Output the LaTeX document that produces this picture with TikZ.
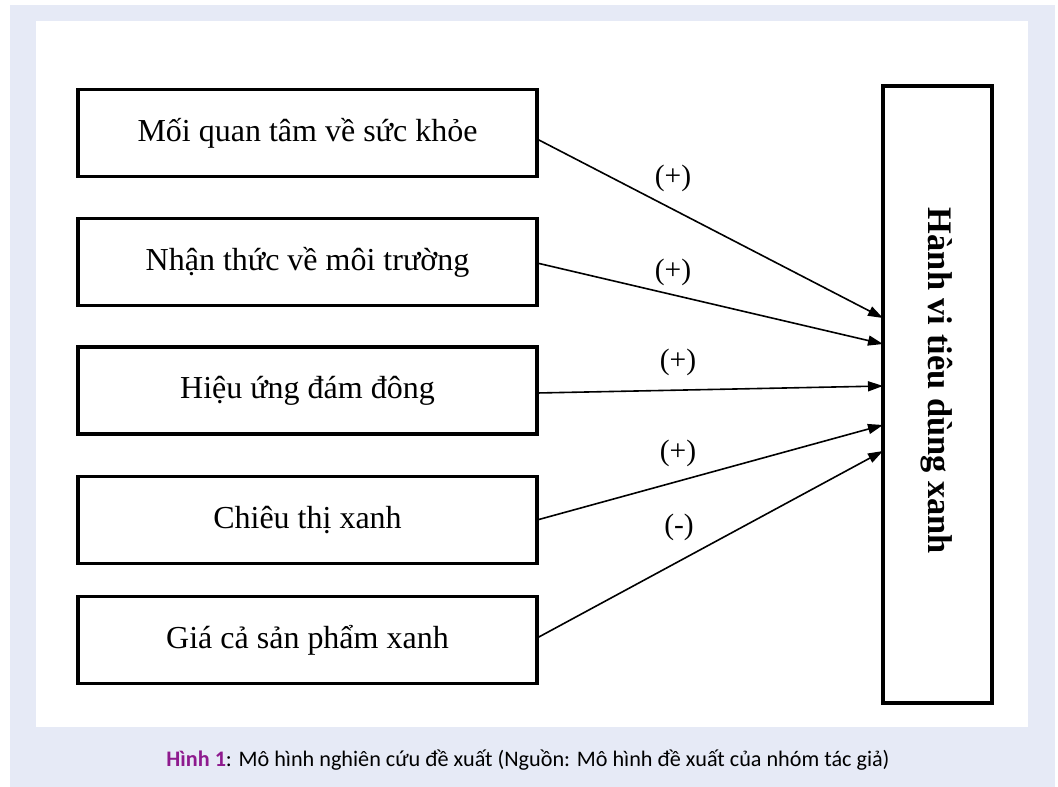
\documentclass[tikz,border=0pt]{standalone}
\usepackage{fontspec}
\setmainfont{Liberation Serif}
\newfontfamily\capfont{Carlito}
\usetikzlibrary{arrows.meta}
\definecolor{lav}{HTML}{E6EAF6}
\definecolor{capurple}{HTML}{8E1A8E}
\tikzset{
  leftbox/.style={draw=black, line width=3.2pt, minimum width=459pt, minimum height=87pt, inner sep=0pt, font=\fontsize{32}{36}\selectfont},
  rightbox/.style={draw=black, line width=3.2pt, minimum width=109pt, minimum height=617pt, inner sep=0pt},
  link/.style={line width=1.6pt, -{Triangle[length=15pt,width=10pt]}},
  sign/.style={font=\fontsize{29.5}{32}\selectfont, inner sep=0pt}
}
\begin{document}
\begin{tikzpicture}[x=1pt,y=-1pt]
\useasboundingbox (0,0) rectangle (1058,787);
\fill[white] (0,0) rectangle (1058,787);
\fill[lav] (10,5) rectangle (1055,787);
\fill[white] (36,21) rectangle (1028,727);

\node[leftbox] (b1) at (307.5,133) {Mối quan tâm về sức khỏe};
\node[leftbox] (b2) at (307.5,262) {Nhận thức về môi trường};
\node[leftbox] (b3) at (307.5,390.5) {Hiệu ứng đám đông};
\node[leftbox] (b4) at (307.5,520) {Chiêu thị xanh};
\node[leftbox] (b5) at (307.5,640) {Giá cả sản phẩm xanh};

\node[rightbox] (r) at (937.5,394.5) {};
\node[rotate=-90, font=\bfseries\fontsize{34.4}{38}\selectfont] (rt) at (937,381) {Hành vi tiêu dùng xanh};

\coordinate (s1) at (537,139);
\coordinate (s2) at (537,263);
\coordinate (s3) at (537,393);
\coordinate (s4) at (537,520);
\coordinate (s5) at (537,638);
\coordinate (t1) at (883,318);
\coordinate (t2) at (883,344);
\coordinate (t3) at (883,386);
\coordinate (t4) at (883,425);
\coordinate (t5) at (883,451);

\draw[link] (s1) -- (t1);
\draw[link] (s2) -- (t2);
\draw[link] (s3) -- (t3);
\draw[link] (s4) -- (t4);
\draw[link] (s5) -- (t5);

\node[sign] (l1) at (673,178) {(+)};
\node[sign] (l2) at (673,272) {(+)};
\node[sign] (l3) at (678,362) {(+)};
\node[sign] (l4) at (678,453) {(+)};
\node[sign] (l5) at (679,527) {(-)};

\node[font=\capfont\fontsize{22.2}{25}\selectfont, inner sep=0pt] (cap) at (528,760)
  {\textcolor{capurple}{\bfseries Hình 1}: Mô hình nghiên cứu đề xuất (Nguồn: Mô hình đề xuất của nhóm tác giả)};
\end{tikzpicture}
\end{document}
